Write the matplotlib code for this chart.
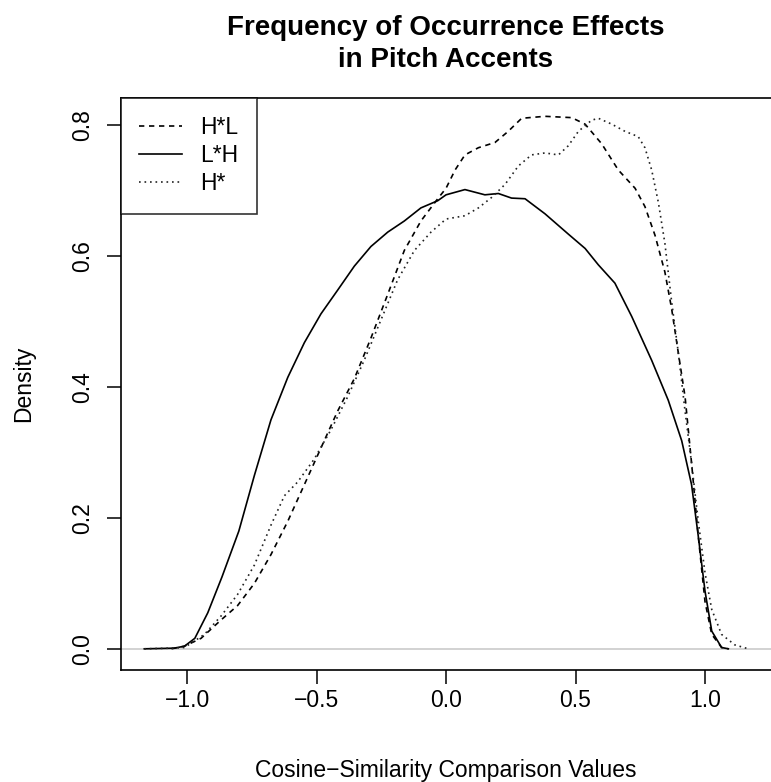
import matplotlib
matplotlib.use("Agg")
import matplotlib.pyplot as plt

# density curves (x, density)
hl_x = [-1.06, -1.01, -0.946, -0.869, -0.805, -0.74, -0.676, -0.611, -0.547, -0.483,
        -0.419, -0.354, -0.29, -0.225, -0.161, -0.097, -0.032, 0.0, 0.035, 0.073,
        0.125, 0.189, 0.24, 0.292, 0.382, 0.485, 0.537, 0.601, 0.665, 0.73, 0.768,
        0.807, 0.845, 0.871, 0.897, 0.923, 0.948, 0.974, 1.0, 1.026, 1.064, 1.09]
hl_y = [0.0, 0.004, 0.016, 0.044, 0.066, 0.10, 0.144, 0.195, 0.251, 0.307,
        0.363, 0.413, 0.475, 0.542, 0.609, 0.654, 0.688, 0.704, 0.732, 0.755,
        0.766, 0.774, 0.791, 0.811, 0.814, 0.812, 0.802, 0.772, 0.732, 0.704, 0.676,
        0.632, 0.576, 0.52, 0.452, 0.385, 0.284, 0.172, 0.072, 0.022, 0.002, 0.0]

lh_x = [-1.165, -1.05, -1.01, -0.97, -0.92, -0.865, -0.80, -0.74, -0.676, -0.611,
        -0.547, -0.483, -0.419, -0.354, -0.29, -0.225, -0.161, -0.097, -0.032, 0.0,
        0.073, 0.15, 0.202, 0.253, 0.305, 0.382, 0.472, 0.537, 0.588, 0.652, 0.717,
        0.794, 0.858, 0.91, 0.948, 0.974, 1.0, 1.026, 1.064, 1.09]
lh_y = [0.0, 0.001, 0.004, 0.016, 0.055, 0.11, 0.18, 0.265, 0.35, 0.415,
        0.468, 0.512, 0.548, 0.585, 0.615, 0.637, 0.654, 0.674, 0.685, 0.694,
        0.702, 0.694, 0.696, 0.689, 0.688, 0.665, 0.634, 0.612, 0.587, 0.559, 0.508,
        0.441, 0.38, 0.318, 0.251, 0.172, 0.088, 0.027, 0.002, 0.0]

h_x = [-1.165, -1.06, -1.01, -0.933, -0.869, -0.805, -0.74, -0.676, -0.624, -0.573,
       -0.509, -0.444, -0.38, -0.316, -0.251, -0.187, -0.122, -0.058, 0.0, 0.073,
       0.125, 0.176, 0.228, 0.279, 0.33, 0.382, 0.434, 0.472, 0.511, 0.562, 0.588,
       0.64, 0.691, 0.742, 0.768, 0.794, 0.82, 0.845, 0.871, 0.897, 0.923, 0.948,
       0.974, 1.0, 1.026, 1.064, 1.115, 1.167]
h_y = [0.0, 0.001, 0.002, 0.022, 0.05, 0.083, 0.128, 0.189, 0.234, 0.255,
       0.29, 0.335, 0.385, 0.441, 0.503, 0.564, 0.609, 0.637, 0.657, 0.662,
       0.674, 0.69, 0.71, 0.738, 0.755, 0.758, 0.755, 0.769, 0.791, 0.808, 0.811,
       0.802, 0.791, 0.783, 0.766, 0.732, 0.682, 0.62, 0.531, 0.452, 0.363, 0.284,
       0.195, 0.116, 0.06, 0.022, 0.006, 0.0]

labels = ["H*L", "L*H", "H*"]
xticks = [-1.0, -0.5, 0.0, 0.5, 1.0]
yticks = [0.0, 0.2, 0.4, 0.6, 0.8]

plt.rcParams['font.family'] = ['Liberation Sans', 'DejaVu Sans']

W, H = 771, 782
fig = plt.figure(figsize=(W / 100, H / 100), dpi=100)
# plot box: left 121px, right ~772px (right border falls off the image), top 98px, bottom 670px
ax = fig.add_axes([121 / W, (H - 670) / H, 651 / W, 572 / H])

ax.axhline(0, color="#cfcfcf", lw=1.3, zorder=1)
ax.plot(hl_x, hl_y, color="black", lw=1.2, ls=(0, (3.2, 2.8)), label=labels[0])
ax.plot(lh_x, lh_y, color="black", lw=1.2, ls="-", label=labels[1])
ax.plot(h_x, h_y, color="#222222", lw=1.2, ls=(0, (1, 2.3)), label=labels[2])

ax.set_xlim(-1.255, 1.2586)
ax.set_ylim(-0.0324, 0.842)
ax.set_xticks(xticks)
ax.set_xticklabels(["\u22121.0", "\u22120.5", "0.0", "0.5", "1.0"])
ax.set_yticks(yticks)
ax.set_yticklabels(["0.0", "0.2", "0.4", "0.6", "0.8"], rotation=90, va="center")
ax.tick_params(direction="out", length=10, width=1.1, labelsize=16.5)
ax.tick_params(axis="x", pad=4)
ax.tick_params(axis="y", pad=9)
for s in ax.spines.values():
    s.set_linewidth(1.2)

fig.text(445.5 / W, (H - 35) / H, "Frequency of Occurrence Effects",
         ha="center", va="baseline", fontsize=20, fontweight="bold")
fig.text(445.5 / W, (H - 67) / H, "in Pitch Accents",
         ha="center", va="baseline", fontsize=20, fontweight="bold")
fig.text(445.5 / W, (H - 777) / H, "Cosine\u2212Similarity Comparison Values",
         ha="center", va="baseline", fontsize=16.5)
fig.text(35 / W, (H - 384) / H, "Density", rotation=90,
         ha="right", va="center", fontsize=16.5)

leg = ax.legend(loc="upper left", borderaxespad=0, fontsize=16.5, frameon=True,
                fancybox=False, handlelength=1.85, handletextpad=0.8,
                labelspacing=0.22, borderpad=0.8)
leg.get_frame().set_edgecolor("black")
leg.get_frame().set_linewidth(1.2)

fig.savefig("out.png", dpi=100)
